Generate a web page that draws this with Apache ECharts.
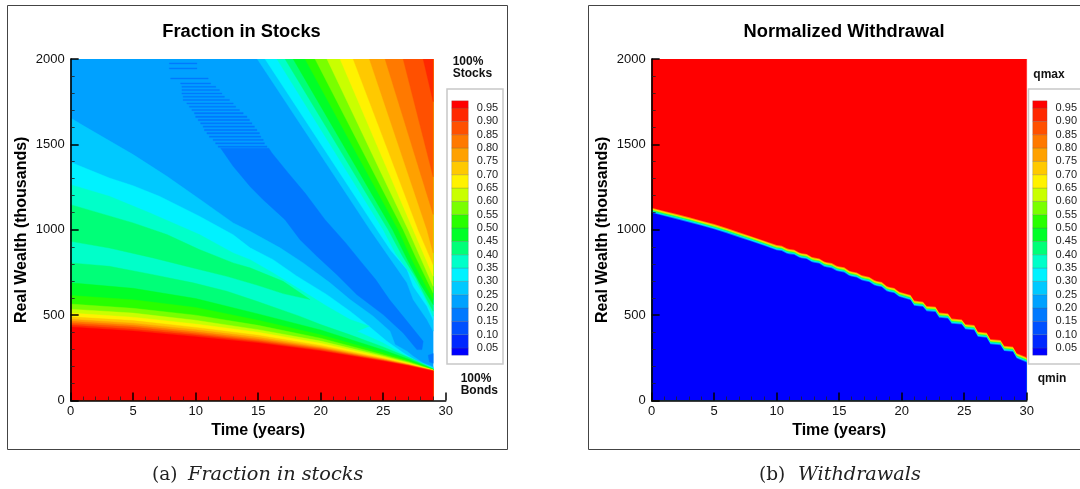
<!DOCTYPE html>
<html><head><meta charset="utf-8">
<style>html,body{margin:0;padding:0;background:#fff;overflow:hidden}#c{width:1080px;height:489px}#c canvas{filter:blur(.45px)}</style>
<script src="https://cdn.jsdelivr.net/npm/echarts@6/dist/echarts.min.js"></script>
</head><body><div id="c"></div>
<script>
// ---------- colour bands (index 0 = below 0.05 ... index 19 = above 0.95)
const bandColors = ['#0000ff','#0028ff','#0050ff','#0079ff','#00a1ff','#00c9ff','#00f2ff','#00ffc9','#00ff78','#00ff28',
                    '#28ff00','#79ff00','#c9ff00','#fff200','#ffc900','#ffa100','#ff7900','#ff5000','#ff2800','#ff0000'];
const legendEdges = [0.023,0.05,0.10,0.15,0.20,0.25,0.30,0.35,0.40,0.45,0.50,0.55,0.60,0.65,0.70,0.75,0.80,0.85,0.90,0.95,0.977];

// ---------- Fraction in stocks: contour lines, as [years, wealth]
const fanYears = [0,5,10,15,20,25,27,29];
const fan45 = [689,657,597,507,413,296,243,184];
const fan50 = [615,590,545,470,385,280,234,182];
const fan55 = [565,540,500,440,365,268,228,180];
const fan60 = [535,512,470,415,348,260,222,179];
const fan65 = [512,488,448,400,335,254,218,178];
const fan70 = [490,468,428,382,322,248,214,177];
const fan75 = [476,453,415,370,314,243,211,176];
const fan80 = [464,441,402,360,307,239,209,175];
const fan85 = [453,430,393,352,301,236,207,174];
const fan90 = [442,418,383,344,295,233,205,173];
const fan95 = [431,407,374,337,290,230,203,172];

const low25 = [[0,1654],[1,1610],[5,1440],[7.7,1313],[10.3,1180],[13,1040],[14.35,991],[16.75,894],[18.6,806],[20.75,689],[22.35,591],[24.2,494],[25.55,406],[25.95,328],[26.9,289],[27.4,259],[28.2,220],[29,198]];
const low30 = [[0,1395],[3.1,1303],[5,1258],[7.1,1196],[10.3,1079],[13,971],[14.35,894],[16.2,825],[18.1,728],[20.5,620],[22.35,523],[23.7,445],[25.3,347],[26.6,279],[27.7,230],[29,192]];
const low35 = [[0,1264],[3.1,1196],[6.35,1098],[10.3,972],[13,864],[14.35,825],[16.2,747],[18.35,650],[20.5,552],[22.35,474],[23.9,435],[22.9,406],[25,337],[26.9,259],[29,188]];
const low40 = [[0,806],[3.1,786],[6.6,737],[9.8,689],[12.5,640],[14.9,581],[18.3,494],[20,445],[22.3,386],[25,314],[27.1,250],[29,186]];
const island40 = [[0,1147],[5,1040],[7.7,972],[10.3,884],[13,806],[14.35,777],[17,698],[19.15,591],[17,626],[14.9,676],[12.5,727],[9.8,776],[6.6,835],[3.1,893],[0,932]];

const high25 = [[14.93,2000],[23.95,1000],[25.8,806],[26.9,689],[27.4,591],[28.5,474],[29,406]];
const high30 = [[15.55,2000],[24.5,1000],[25.6,880],[26.9,767],[27.4,669],[28.5,552],[29,470]];
const high35 = [[16.5,2000],[25,1000],[26,860],[27.2,740],[28.2,620],[29,494]];
const high40 = [[17.15,2000],[25.4,1000],[26.5,850],[27.6,720],[28.5,590],[29,523]];
const high45 = [[17.8,2000],[25.75,1000],[27,815],[28,680],[29,562]];
const high50 = [[18.75,2000],[26.2,1000],[27.3,825],[28.2,700],[29,591]];
const high55 = [[19.55,2000],[26.6,1000],[27.6,840],[29,630]];
const high60 = [[20.5,2000],[27,1000],[29,669]];
const high65 = [[21.55,2000],[27.4,1000],[29,728]];
const high70 = [[22.6,2000],[27.8,1000],[29,796]];
const high75 = [[23.9,2000],[28.5,1000],[29,864]];
const high80 = [[25.15,2000],[29,1090]];
const high85 = [[26.6,2000],[29,1310]];
const high90 = [[28.2,2000],[29,1750]];

const wedge15 = [[12,1478],[13,1372],[14.35,1254],[15.4,1176],[17.15,1059],[18.35,942],[19.7,845],[21.3,737],[22.9,620],[25,503],[26.6,396],[27.7,298],[28.1,298],[28.2,347],[26.8,474],[25.5,591],[24.4,708],[23.3,806],[22,923],[20.35,1059],[18.75,1215],[17.4,1333],[16.1,1450],[15.85,1478]];
const spot15 = [[28.6,265],[29,275],[29,218],[28.7,225]];
// faint horizontal streaks at the top of the wedge: [wealth, from year, to year]
const wedgeStreaks = [[1974,7.9,10.1],[1945,7.9,10.1],[1886,8,11],[1857,8.8,11.2],[1837,8.9,11.6],[1818,8.9,11.9],[1798,8.9,12.1],[1779,9,12.3],[1760,9,12.7],[1740,9.3,13],[1721,9.5,13.2],[1701,9.7,13.5],[1682,9.9,13.8],[1662,10,14.1],[1643,10.2,14.3],[1623,10.4,14.5],[1604,10.6,14.7],[1584,10.7,14.9],[1565,10.9,15.1],[1545,11.1,15.2],[1526,11.4,15.4],[1506,11.6,15.5],[1487,11.8,15.7]];

// ---------- Normalized withdrawal: edge between qmin and qmax, as [years, wealth]
const edgePoints = [[0,1114],[1,1095],[2,1077],[3,1058],[4,1038],[5,1018],[6,995],[7,970],[8,946],[9,921],
  [10,895],[10.4,891],[10.8,876],[11,872],[11.4,868],[11.8,852],[12,848],[12.4,843],[12.8,826],[13,822],[13.4,817],[13.8,799],
  [14,795],[14.4,790],[14.8,774],[15,770],[15.4,765],[15.8,745],[16,741],[16.4,735],[16.8,719],[17,715],[17.4,709],[17.8,690],
  [18,685],[18.4,679],[18.8,655],[19,650],[19.4,644],[19.8,622],[20,618],[20.7,603],[21,570],[21.7,564],[22,538],[22.7,534],
  [23,500],[23.7,495],[24,465],[24.8,460],[25.1,432],[25.8,427],[26.1,388],[26.8,382],[27.1,344],[27.9,339],[28.2,305],[28.9,300],[29.2,262],[30,238]];
const edgeOffsets = [15,10,5,0,-5,-10,-15];
const edgeColors = ['#ff8000','#ffe000','#90ff00','#00ff80','#00e8ff','#0080ff','#0000ff'];

const xTicks = 5, yTicks = 500;
const FONT = '"Liberation Sans", Arial, sans-serif';
const SERIF = '"DejaVu Serif", serif';

// ---------- build regions
const fanCurve = ws => ws.map((w,i)=>[fanYears[i],w]);
const under = c => c.concat([[29,0],[0,0]]);
const above = c => c.concat([[29,2000]]);
const regions = [];
const add = (pts,band)=>regions.push({pts,band});
add([[0,0],[29,0],[29,2000],[0,2000]],4);
wedgeStreaks.forEach(r=>{const h=r[0]>1700?3:4;add([[r[1],r[0]-h],[r[2],r[0]-h],[r[2],r[0]+h],[r[1],r[0]+h]],3);});
add(wedge15,3); add(spot15,3);
add(under(low25),5); add(under(low30),6); add(under(low35),7); add(under(low40),8); add(island40,8);
[fan45,fan50,fan55,fan60,fan65,fan70,fan75,fan80,fan85,fan90,fan95].forEach((f,i)=>add(under(fanCurve(f)),9+i));
[high25,high30,high35,high40,high45,high50,high55,high60,high65,high70,high75,high80,high85,high90].forEach((h,i)=>add(above(h),5+i));

const polySeries = (list,ax,name) => ({
  type:'custom', name, coordinateSystem:'cartesian2d', xAxisIndex:ax, yAxisIndex:ax, clip:true, silent:true,
  data:list.map((r,i)=>[i,0]),
  renderItem:(p,api)=>{
    const r=list[api.value(0)];
    const c=bandColors[r.band];
    return {type:'polygon',shape:{points:r.pts.map(q=>api.coord(q))},style:{fill:c,stroke:r.stroke||c,lineWidth:r.lw===undefined?0.4:r.lw}};
  }
});
const legendCells = bandColors.map((c,i)=>({band:i,stroke:'rgba(90,90,90,0.45)',lw:0.5,
  pts:[[0,legendEdges[i]],[1,legendEdges[i]],[1,legendEdges[i+1]],[0,legendEdges[i+1]]]}));

const plotX = ax => ({
  gridIndex:ax,type:'value',min:0,max:30,interval:xTicks,z:10,
  name:'Time (years)',nameLocation:'middle',nameGap:16,
  nameTextStyle:{fontFamily:FONT,fontWeight:'bold',fontSize:16,color:'#000'},
  axisLine:{show:true,onZero:false,lineStyle:{color:'#000',width:1.6}},
  axisTick:{show:true,inside:true,length:8,lineStyle:{color:'#000',width:1.5}},
  minorTick:{show:true,splitNumber:5,length:4,lineStyle:{color:'#222',width:0.8}},
  splitLine:{show:false},
  axisLabel:{margin:4,fontFamily:FONT,fontSize:13,color:'#111',showMinLabel:true,showMaxLabel:true}
});
const plotY = ax => ({
  gridIndex:ax,type:'value',min:0,max:2000,interval:yTicks,z:10,
  name:'Real Wealth (thousands)',nameLocation:'middle',nameGap:41,nameRotate:90,
  nameTextStyle:{fontFamily:FONT,fontWeight:'bold',fontSize:16,color:'#000'},
  axisLine:{show:true,onZero:false,lineStyle:{color:'#000',width:1.6}},
  axisTick:{show:true,inside:true,length:8,lineStyle:{color:'#000',width:1.5}},
  minorTick:{show:true,splitNumber:5,length:4,lineStyle:{color:'#222',width:0.8}},
  splitLine:{show:false},
  axisLabel:{margin:6,fontFamily:FONT,fontSize:13,color:'#111',formatter:v=>String(v)}
});
const legX = ax => ({gridIndex:ax,type:'value',min:0,max:1,show:false});
const legY = ax => ({
  gridIndex:ax,type:'value',min:0,max:1,interval:0.05,position:'right',z:10,
  axisLine:{show:false},axisTick:{show:false},splitLine:{show:false},
  axisLabel:{margin:8.5,fontFamily:FONT,fontSize:11,color:'#222',
    formatter:v=>(v<0.01||v>0.99)?'':v.toFixed(2),showMinLabel:false,showMaxLabel:false}
});
const edgeSeries = edgeOffsets.map((off,i)=>({
  type:'line',name:'edge'+i,xAxisIndex:1,yAxisIndex:1,symbol:'none',silent:true,
  lineStyle:{width:0},z:3,
  areaStyle:{color:edgeColors[i],opacity:1,origin:'start'},
  data:edgePoints.map(([y,w])=>[y,w+off])
}));

const note = (x,y,text)=>({type:'text',x,y,z:20,style:{text,fontFamily:FONT,fontWeight:'bold',fontSize:12,fill:'#111',textAlign:'left',textVerticalAlign:'middle'}});
const capText = (x,text,italic)=>({type:'text',x,y:475,z:20,style:{text,fontFamily:SERIF,fontStyle:italic?'italic':'normal',fontSize:italic?19.3:18.5,fill:'#222',textAlign:'left',textVerticalAlign:'middle'}});

const chart = echarts.init(document.getElementById('c'),null,{renderer:'canvas',width:1080,height:489});
chart.setOption({
  animation:false,backgroundColor:'#fff',
  title:[
    {text:'Fraction in Stocks',left:241.5,top:23,textAlign:'center',padding:0,textStyle:{fontFamily:FONT,fontWeight:'bold',fontSize:18.3,color:'#000'}},
    {text:'Normalized Withdrawal',left:844,top:23,textAlign:'center',padding:0,textStyle:{fontFamily:FONT,fontWeight:'bold',fontSize:18.3,color:'#000'}}
  ],
  grid:[
    {left:70.67,top:59,width:375,height:341.5},
    {left:651.67,top:59,width:375,height:341.5},
    {left:451.7,top:94.67,width:16.6,height:266.67},
    {left:1032.7,top:94.67,width:16.6,height:266.67}
  ],
  xAxis:[plotX(0),plotX(1),legX(2),legX(3)],
  yAxis:[plotY(0),plotY(1),legY(2),legY(3)],
  graphic:[
    {type:'rect',z:-1,shape:{x:7.5,y:5.5,width:500,height:444},style:{fill:'none',stroke:'#444',lineWidth:1}},
    {type:'rect',z:-1,shape:{x:588.5,y:5.5,width:560,height:444},style:{fill:'none',stroke:'#444',lineWidth:1}},
    {type:'rect',z:-1,shape:{x:447,y:89,width:56,height:275},style:{fill:'#fff',stroke:'#c8c8c8',lineWidth:1.5}},
    {type:'rect',z:-1,shape:{x:1028.5,y:89,width:80,height:275},style:{fill:'#fff',stroke:'#c8c8c8',lineWidth:1.5}},
    note(452.7,62,'100%'),note(452.7,74,'Stocks'),note(460.7,379,'100%'),note(460.7,391,'Bonds'),
    note(1033.3,74.3,'qmax'),note(1037.7,378.7,'qmin'),
    capText(152,'(a)',false),capText(188,'Fraction in stocks',true),
    capText(759,'(b)',false),capText(798,'Withdrawals',true)
  ],
  series:[
    polySeries(regions,0,'Fraction in Stocks'),
    polySeries([{band:19,pts:[[0,0],[30,0],[30,2000],[0,2000]]}],1,'Normalized Withdrawal'),
    ...edgeSeries,
    polySeries(legendCells,2,'Legend a'),
    polySeries(legendCells,3,'Legend b')
  ]
});
</script></body></html>
